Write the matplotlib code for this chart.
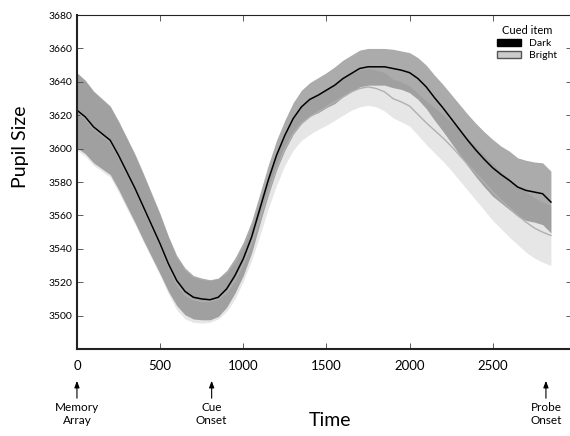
import numpy as np
import matplotlib
matplotlib.use("Agg")
import matplotlib.pyplot as plt
from matplotlib.patches import Patch
import matplotlib.transforms as mtransforms

plt.rcParams['font.family'] = ['Lato', 'DejaVu Sans']

# time axis (ms), 50 ms steps
time = np.arange(0, 2851, 50)

# cued item: dark
dark_mean = [3623, 3619, 3613, 3609, 3605, 3596, 3586, 3576, 3565, 3554,
             3543, 3531, 3521, 3514.5, 3511, 3510, 3509.5, 3511, 3516, 3524,
             3534, 3547, 3564, 3581, 3596, 3608, 3618, 3625, 3629.5, 3632,
             3635, 3638, 3642, 3645, 3648, 3649, 3649, 3649, 3648, 3647,
             3645.5, 3642, 3637, 3630.5, 3624.5, 3618, 3611.5, 3605, 3599, 3593.5,
             3588.5, 3584.5, 3581, 3577, 3575, 3574, 3573, 3568]
dark_err = [22.5, 22, 21.5, 21, 20.5, 20.5, 20.5, 20.5, 20, 19,
            18, 16.5, 15, 14, 13, 12.5, 12, 11.5, 11, 10.5,
            10, 9.5, 9, 9, 9, 9, 9.5, 10, 10, 10.5,
            10.5, 11, 11, 11, 11, 11, 11, 11, 11.5, 11.5,
            12, 12.5, 13, 13.5, 14, 14.5, 15, 15.5, 16, 16.5,
            17, 17, 17.5, 17.5, 18, 18, 18.5, 18.5]

# cued item: bright
bright_mean = [3622, 3618, 3612, 3608, 3604, 3595, 3585, 3575, 3564, 3553,
               3542, 3530, 3519, 3512.5, 3509.5, 3508.5, 3508.5, 3510, 3514, 3521,
               3531, 3543, 3558, 3574, 3588, 3600, 3609, 3615, 3619, 3622,
               3625, 3628, 3631, 3634, 3636, 3637, 3636, 3634, 3630, 3628,
               3625.5, 3620.5, 3615.5, 3611, 3606.5, 3601.5, 3596, 3590.5, 3585, 3579.5,
               3574, 3569, 3564.5, 3560, 3556, 3552.5, 3550, 3548]
bright_err = [23, 22.5, 22, 21.5, 21, 21, 21, 20.5, 20, 19,
              18, 17, 15.5, 14.5, 13.5, 13, 12.5, 12, 11.5, 11,
              10.5, 10, 10, 10, 10, 10, 10, 10, 10.5, 10.5,
              11, 11, 11, 11, 11, 11, 11, 11.5, 11.5, 12,
              12, 12.5, 13, 13.5, 14, 14.5, 15, 15.5, 16, 16.5,
              17, 17, 17.5, 17.5, 18, 18, 18, 18]

events = [0, 810, 2820]
event_labels = ["Memory\nArray", "Cue\nOnset", "Probe\nOnset"]

xticks = [0, 500, 1000, 1500, 2000, 2500]
yticks = [3500, 3520, 3540, 3560, 3580, 3600, 3620, 3640, 3660, 3680]

dark_mean = np.array(dark_mean)
bright_mean = np.array(bright_mean)
dark_err = np.array(dark_err)
bright_err = np.array(bright_err)

fig = plt.figure(figsize=(5.7, 4.36), dpi=100)
ax = fig.add_axes([0.135, 0.1995, 0.868, 0.766])

ax.fill_between(time, bright_mean - bright_err, bright_mean + bright_err,
                color='#e6e6e6', linewidth=0)
ax.fill_between(time, dark_mean - dark_err, dark_mean + dark_err,
                color='#696969', alpha=0.56, linewidth=0)
ax.plot(time, bright_mean, color='#b0b0b0', lw=1.0)
ax.plot(time, dark_mean, color='k', lw=1.1)

ax.set_xlim(0, 2975)
ax.set_ylim(3480, 3680)
ax.set_xticks(xticks)
ax.set_yticks(yticks)
ax.tick_params(direction='in', top=True, right=True, length=4, width=0.6, color='#444444')
ax.tick_params(axis='y', labelsize=7.5, pad=3)
ax.tick_params(axis='x', labelsize=9.5, pad=8)
for s in ['left', 'bottom']:
    ax.spines[s].set_linewidth(1.5)
    ax.spines[s].set_color('#222222')
for s in ['top', 'right']:
    ax.spines[s].set_linewidth(0.8)
    ax.spines[s].set_color('#222222')

ax.set_ylabel("Pupil Size", fontsize=14)
ax.yaxis.set_label_coords(-0.097, 0.605)
fig.text(330 / 570, 1 - 420 / 436, "Time", fontsize=14, ha='center', va='center')

# event markers below the axis
trans = mtransforms.blended_transform_factory(ax.transData, fig.transFigure)
for t, lab in zip(events, event_labels):
    ax.annotate("", xy=(t, 1 - 378 / 436), xytext=(t, 1 - 401 / 436),
                xycoords=trans, textcoords=trans,
                arrowprops=dict(arrowstyle='-|>,head_length=0.4,head_width=0.15',
                                color='k', lw=0.8), annotation_clip=False)
    ax.text(t, 1 - 402 / 436, lab, transform=trans, ha='center', va='top',
            fontsize=8.5, linespacing=1.25, clip_on=False)

handles = [Patch(facecolor='k', edgecolor='k', label='Dark'),
           Patch(facecolor='#cccccc', edgecolor='#555555', label='Bright')]
leg = fig.legend(handles=handles, title="Cued item", loc='upper right',
                 bbox_to_anchor=(557 / 570, 1 - 25 / 436), frameon=False,
                 fontsize=7.5, title_fontsize=8, handlelength=2.3,
                 handleheight=0.75, handletextpad=0.8, labelspacing=0.25,
                 borderpad=0, borderaxespad=0)

fig.savefig("out.png", dpi=100)
